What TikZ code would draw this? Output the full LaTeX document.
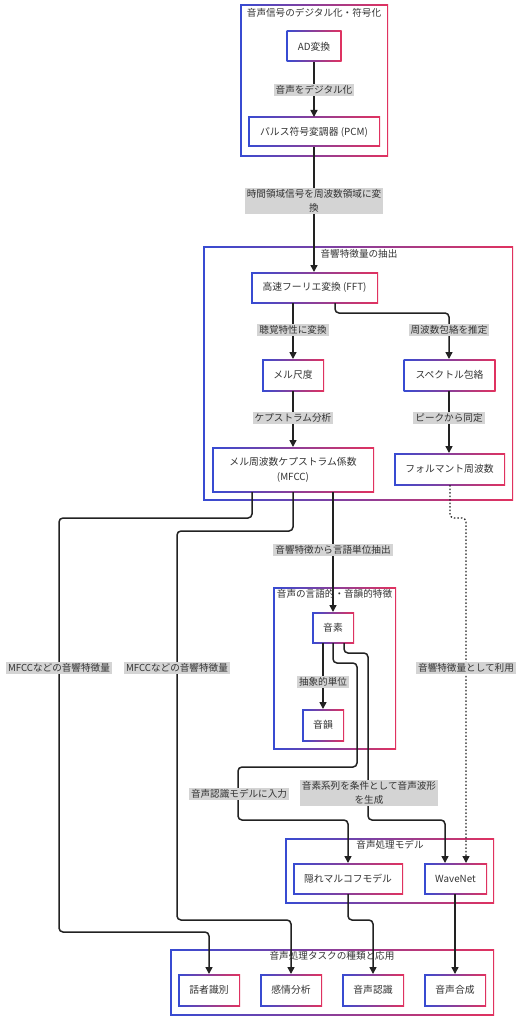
\documentclass[tikz,border=0pt]{standalone}
\usepackage{fontspec}
\setmainfont{Noto Sans CJK JP}
\usetikzlibrary{arrows.meta}
\definecolor{bluec}{RGB}{55,75,210}
\definecolor{redc}{RGB}{225,50,95}
\definecolor{txt}{RGB}{51,51,51}
\definecolor{linec}{RGB}{34,34,34}
\definecolor{lblgray}{RGB}{212,212,212}
\tikzset{
  gframe/.style={rectangle, inner sep=2pt, outer sep=0pt, align=center, text=txt,
    font=\fontsize{9.8}{15}\selectfont, fill=white,
    path picture={
      \shade[left color=bluec, right color=redc] (path picture bounding box.south west) rectangle (path picture bounding box.north east);
      \fill[white] ([shift={(1.5pt,1.5pt)}]path picture bounding box.south west) rectangle ([shift={(-1.5pt,-1.5pt)}]path picture bounding box.north east);
    }},
  ctitle/.style={text=txt, font=\fontsize{9.6}{12}\selectfont, inner sep=1pt},
  lbl/.style={fill=lblgray, inner xsep=2pt, inner ysep=1.5pt, text=txt,
    font=\fontsize{9.6}{13.5}\selectfont, align=center},
  conn/.style={draw=linec, line width=1.5pt, rounded corners=4pt, -{Triangle[length=7pt,width=7pt]}},
  dconn/.style={conn, dotted, line width=1.3pt},
}
\begin{document}
\begin{tikzpicture}[x=1pt, y=-1pt]
\useasboundingbox (0,0) rectangle (522,1024);
\fill[white] (0,0) rectangle (522,1024);
% clusters
\node[gframe, minimum width=148, minimum height=152] (c1) at (314,81) {};
\node[ctitle] (c1t) at (314,13) {音声信号のデジタル化・符号化};
\node[gframe, minimum width=310, minimum height=254] (c2) at (358,373) {};
\node[ctitle] (c2t) at (359,254) {音響特徴量の抽出};
\node[gframe, minimum width=123, minimum height=162] (c3) at (334.5,668) {};
\node[gframe, minimum width=209, minimum height=65] (c4) at (389.5,870.5) {};
\node[ctitle] (c4t) at (390,845) {音声処理モデル};
\node[gframe, minimum width=324, minimum height=66] (c5) at (332,982) {};
% nodes
\node[gframe, minimum width=55, minimum height=31] (ad) at (314,46.5) {AD変換};
\node[gframe, minimum width=132, minimum height=30] (pcm) at (314,132) {パルス符号変調器 (PCM)};
\node[gframe, minimum width=127, minimum height=31] (fft) at (314.5,287.5) {高速フーリエ変換 (FFT)};
\node[gframe, minimum width=62, minimum height=32] (mel) at (293,375) {メル尺度};
\node[gframe, minimum width=92, minimum height=32] (spec) at (449.5,375) {スペクトル包絡};
\node[gframe, minimum width=162, minimum height=45] (mfcc) at (293,469.5) {メル周波数ケプストラム係数\\(MFCC)};
\node[gframe, minimum width=111, minimum height=32] (form) at (449.5,469) {フォルマント周波数};
\node[gframe, minimum width=42, minimum height=31] (onso) at (333,627.5) {音素};
\node[gframe, minimum width=42, minimum height=32] (onin) at (323,725) {音韻};
\node[gframe, minimum width=110, minimum height=31] (hmm) at (348,878.5) {隠れマルコフモデル};
\node[gframe, minimum width=63, minimum height=31] (wave) at (455.5,878.5) {WaveNet};
\node[gframe, minimum width=62, minimum height=32] (t1) at (209,990) {話者識別};
\node[gframe, minimum width=62, minimum height=32] (t2) at (291,990) {感情分析};
\node[gframe, minimum width=62, minimum height=32] (t3) at (373,990) {音声認識};
\node[gframe, minimum width=62, minimum height=32] (t4) at (455,990) {音声合成};
% connectors
\draw[conn] (ad.south) -- (pcm.north);
\draw[conn] (pcm.south) -- ([xshift=-0.5pt]fft.north);
\draw[conn] ([xshift=-21.5pt]fft.south) -- (mel.north);
\draw[conn] ([xshift=20.5pt]fft.south) -- (335,313) -- (449,313) -- ([xshift=-0.5pt]spec.north);
\draw[conn] (mel.south) -- (mfcc.north);
\draw[conn] ([xshift=-0.5pt]spec.south) -- ([xshift=-0.5pt]form.north);
\draw[conn] ([xshift=-41pt]mfcc.south) -- (252,518) -- (59,518) -- (59,932) -- (209,932) -- (t1.north);
\draw[conn] (mfcc.south) -- (293,531) -- (177,531) -- (177,920) -- (291,920) -- (t2.north);
\draw[conn] ([xshift=40pt]mfcc.south) -- (onso.north);
\draw[dconn] ([xshift=0.5pt]form.south) -- (450,518) -- (466,518) -- ([xshift=10.5pt]wave.north);
\draw[conn] ([xshift=-10pt]onso.south) -- (onin.north);
\draw[conn] (onso.south) -- (333,663) -- (357,663) -- (357,767) -- (238,767) -- (238,820) -- (348,820) -- (hmm.north);
\draw[conn] ([xshift=11pt]onso.south) -- (344,653) -- (368,653) -- (368,820) -- (445,820) -- ([xshift=-10.5pt]wave.north);
\draw[conn] (hmm.south) -- (348,920) -- (373,920) -- (t3.north);
\draw[conn] ([xshift=-0.5pt]wave.south) -- (t4.north);
% titles drawn over lines
\node[ctitle] (c3t) at (334.5,594) {音声の言語的・音韻的特徴};
\node[ctitle] (c5t) at (332,956) {音声処理タスクの種類と応用};
% labels
\node[lbl] (l1) at (314,90) {音声をデジタル化};
\node[lbl] (l2) at (314,201) {時間領域信号を周波数領域に変\\換};
\node[lbl] (l3) at (293,330) {聴覚特性に変換};
\node[lbl] (l4) at (449,330) {周波数包絡を推定};
\node[lbl] (l5) at (293,418) {ケプストラム分析};
\node[lbl] (l6) at (449,418) {ピークから同定};
\node[lbl] (l7) at (333,550) {音響特徴から言語単位抽出};
\node[lbl] (l8) at (59,668) {MFCCなどの音響特徴量};
\node[lbl] (l9) at (177,668) {MFCCなどの音響特徴量};
\node[lbl] (l10) at (466,668) {音響特徴量として利用};
\node[lbl] (l11) at (323,682) {抽象的単位};
\node[lbl] (l12) at (239,794) {音声認識モデルに入力};
\node[lbl] (l13) at (369,793) {音素系列を条件として音声波形\\を生成};
\end{tikzpicture}
\end{document}
